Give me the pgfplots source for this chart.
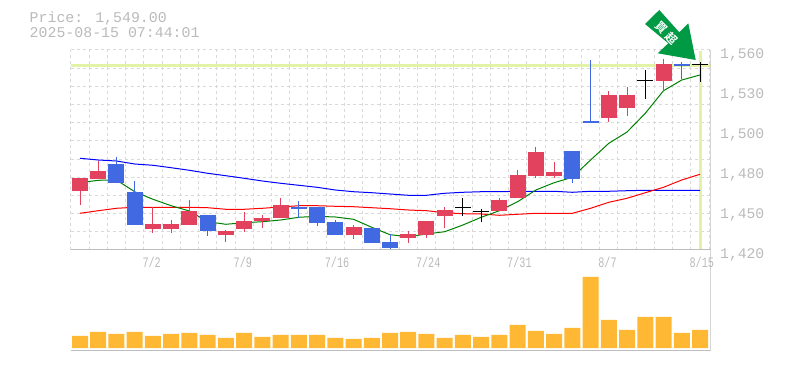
\documentclass[border=0pt]{standalone}
\usepackage{graphicx}
\usepackage{fontspec}
\setmainfont{Liberation Mono}
\newfontfamily\cjk{Noto Sans CJK JP}[BoldFont={* Bold}]
\usepackage{pgfplots}
\usepackage{pgfplotstable}
\pgfplotsset{compat=1.18}
\definecolor{cred}{HTML}{E3425F}
\definecolor{cblue}{HTML}{4169E1}
\definecolor{vol}{HTML}{FFB833}
\definecolor{hl}{HTML}{E2F2A6}
\definecolor{gr}{HTML}{D9D9D9}
\definecolor{ax}{HTML}{BEBEBE}
\definecolor{txt}{HTML}{BABABA}
\definecolor{arrowg}{HTML}{009A44}
\newcommand{\xl}[1]{\scalebox{0.7}[1]{\fontsize{14.5}{15}\selectfont #1}}

% candles: body top, body bottom, wick high, wick low
\pgfplotstableread{
i top bot hi lo
0 1470.4 1461.3 1470.4 1451.5
1 1475.3 1469.7 1482.5 1469.7
4 1438.2 1434.7 1449.9 1431.9
5 1438.2 1434.7 1441.0 1431.9
6 1447.3 1437.5 1455.0 1437.5
8 1433.3 1430.5 1434.0 1425.6
9 1440.3 1434.7 1446.6 1432.6
10 1442.4 1440.3 1444.5 1435.4
11 1451.5 1442.4 1456.4 1442.4
15 1436.1 1430.5 1437.5 1427.7
18 1431.2 1428.4 1433.3 1424.9
19 1440.3 1430.5 1440.3 1428.4
20 1448.0 1443.8 1450.1 1435.4
23 1455.0 1447.3 1456.4 1447.3
24 1472.5 1456.4 1476.0 1456.4
25 1488.6 1471.8 1492.1 1470.4
26 1474.6 1471.8 1481.6 1470.4
29 1528.5 1512.4 1531.3 1509.6
30 1528.5 1519.4 1534.1 1513.8
32 1550.2 1538.3 1553.7 1531.3
}\upcandles
\pgfplotstableread{
i top bot hi lo
2 1480.2 1466.9 1484.9 1466.9
3 1460.6 1437.5 1468.3 1437.5
7 1444.5 1433.3 1444.5 1429.8
12 1450.1 1448.7 1454.3 1442.4
13 1450.1 1438.9 1450.1 1436.8
14 1439.6 1430.5 1441.0 1430.5
16 1435.4 1424.9 1435.4 1424.9
17 1425.6 1421.4 1431.2 1419.3
27 1489.3 1469.7 1489.3 1466.9
28 1510.3 1508.9 1553.0 1508.9
33 1550.2 1548.8 1551.6 1539.7
}\downcandles
\pgfplotstableread{
i top bot hi lo
21 1450.25 1449.55 1456.4 1443.8
22 1447.45 1446.75 1448.7 1439.6
31 1539.15 1538.45 1546.0 1525.7
34 1549.85 1549.15 1551.6 1537.6
}\flatcandles
\pgfplotstableread{
i blue red green vol
0 1484.2 1445.7 1467.1 12
1 1483.0 1447.5 1468.8 16
2 1482.3 1449.2 1469.0 14
3 1480.2 1449.9 1460.8 16
4 1479.3 1449.9 1455.5 12
5 1477.6 1449.9 1451.0 14
6 1475.8 1449.9 1447.3 15
7 1473.7 1449.6 1439.8 13
8 1472.0 1448.5 1438.0 10
9 1470.2 1448.5 1439.1 15
10 1468.3 1449.2 1439.8 11
11 1466.7 1450.1 1441.0 13
12 1465.3 1451.0 1442.9 13
13 1463.9 1451.0 1443.6 13
14 1462.0 1450.6 1443.1 10
15 1460.8 1450.3 1441.5 9
16 1460.1 1449.6 1435.9 10
17 1459.2 1448.9 1430.7 15
18 1458.3 1448.0 1429.3 16
19 1458.3 1447.5 1431.2 14
20 1459.7 1446.1 1432.8 10
21 1460.4 1445.4 1437.5 13
22 1460.8 1445.2 1442.9 11
23 1460.8 1444.3 1447.5 13
24 1461.1 1445.0 1453.8 23
25 1461.1 1445.7 1462.0 17
26 1461.1 1445.7 1467.1 14
27 1460.4 1445.7 1470.9 20
28 1461.1 1449.2 1483.0 71
29 1461.1 1453.4 1494.7 28
30 1461.5 1456.2 1502.6 18
31 1461.8 1460.1 1515.7 31
32 1461.8 1463.9 1531.5 31
33 1461.8 1469.0 1539.0 15
34 1461.8 1473.0 1542.5 18
}\series

\pgfplotsset{
  chartbase/.style={
    scale only axis, width=640pt,
    xmin=-0.521, xmax=34.576,
    axis line style={draw=none},
    tick style={draw=none},
    major tick length=0pt, minor tick length=0pt,
    minor xtick={-0.5,0.5,1.5,2.5,3.5,4.5,5.5,6.5,7.5,8.5,9.5,10.5,11.5,12.5,13.5,14.5,15.5,16.5,17.5,18.5,19.5,20.5,21.5,22.5,23.5,24.5,25.5,26.5,27.5,28.5,29.5,30.5,31.5,32.5,33.5,34.5},
    xminorgrids=true,
    minor grid style={draw=gr, line width=1pt, dash pattern=on 3pt off 3pt},
  },
  wick/.style={draw=none, mark=none, forget plot,
    error bars/.cd, y dir=both, y explicit, error mark=none,
    error bar style={line width=1pt, draw=#1, solid}},
  body/.style={draw=none, mark=none, forget plot,
    error bars/.cd, y dir=minus, y explicit, error mark=none,
    error bar style={line width=16pt, draw=#1, solid}},
}

\begin{document}
\begin{tikzpicture}[x=1pt,y=1pt]
\path[use as bounding box] (0pt,0pt) rectangle (785pt,370pt);

% volume panel
\begin{axis}[chartbase, name=v, at={(70.5pt,20pt)}, anchor=south west,
    height=100pt, ymin=-2, ymax=98, ytick=\empty, xtick=\empty]
  \addplot[ybar, bar width=16pt, fill=vol, draw=none, forget plot] table[x=i,y=vol] {\series};
  \draw[ax, line width=1pt] (rel axis cs:0,1)--(rel axis cs:1,1)--(rel axis cs:1,0)--(rel axis cs:0,0);
\end{axis}

% price panel
\begin{axis}[chartbase, at={(70.5pt,120pt)}, anchor=south west,
    height=200pt, ymin=1420, ymax=1560,
    ytick={1420,1448,1476,1504,1532,1560},
    yticklabels={{1,420},{1,450},{1,480},{1,500},{1,530},{1,560}},
    yticklabel pos=right,
    yticklabel style={anchor=west, inner sep=0pt, xshift=9.5pt, yshift=-5pt, text=txt,
        font=\fontsize{14.7}{15}\selectfont},
    minor ytick={1432.73,1445.45,1458.18,1470.91,1483.64,1496.36,1509.09,1521.82,1534.55,1547.27,1560},
    yminorgrids=true,
    xtick={3.5,8.5,13.5,18.5,23.5,28.5,33.5},
    xticklabels={\xl{7/2},\xl{7/9},\xl{7/16},\xl{7/24},\xl{7/31},\xl{8/7},\xl{8/15}},
    xticklabel style={anchor=west, inner sep=0pt, xshift=-1.5pt, yshift=-12pt, text=txt},
  ]
  \addplot[hl, line width=3pt, forget plot] coordinates {(-0.521,1549.3) (34.576,1549.3)};
  \addplot[hl, line width=3pt, forget plot] coordinates {(34,1420.7) (34,1559.5)};
  \addplot[blue, line width=1pt, forget plot] table[x=i,y=blue] {\series};
  \addplot[red, line width=1pt, forget plot] table[x=i,y=red] {\series};
  \addplot[green!50!black, line width=1pt, forget plot] table[x=i,y=green] {\series};

  \addplot[wick=cred] table[x=i,y=top,y error plus expr=\thisrow{hi}-\thisrow{top},y error minus expr=\thisrow{top}-\thisrow{lo}] {\upcandles};
  \addplot[body=cred] table[x=i,y=top,y error minus expr=\thisrow{top}-\thisrow{bot}] {\upcandles};
  \addplot[wick=cblue] table[x=i,y=top,y error plus expr=\thisrow{hi}-\thisrow{top},y error minus expr=\thisrow{top}-\thisrow{lo}] {\downcandles};
  \addplot[body=cblue] table[x=i,y=top,y error minus expr=\thisrow{top}-\thisrow{bot}] {\downcandles};
  \addplot[wick=black] table[x=i,y=top,y error plus expr=\thisrow{hi}-\thisrow{top},y error minus expr=\thisrow{top}-\thisrow{lo}] {\flatcandles};
  \addplot[body=black] table[x=i,y=top,y error minus expr=\thisrow{top}-\thisrow{bot}] {\flatcandles};

  \draw[ax, line width=1pt] (rel axis cs:0,0)--(rel axis cs:1,0)--(rel axis cs:1,1);
\end{axis}

% header
\node[anchor=west, inner sep=0pt, text=txt, font=\fontsize{14.9}{15}\selectfont] at (29.5pt,352pt) {Price: 1,549.00};
\node[anchor=west, inner sep=0pt, text=txt, font=\fontsize{14.9}{15}\selectfont] at (29.5pt,337pt) {2025-08-15 07:44:01};

% badge arrow
\fill[arrowg] (659.3pt,360pt)--(645pt,346pt)--(668.3pt,326.7pt)--(657.7pt,316.7pt)--(695.7pt,310pt)--(688.3pt,346.7pt)--(679.3pt,337.7pt)--cycle;
\node[rotate=-45, inner sep=0pt, text=white, font=\cjk\bfseries\fontsize{11.5}{12}\selectfont] at (661pt,342.7pt) {買};
\node[rotate=-45, inner sep=0pt, text=white, font=\cjk\bfseries\fontsize{11.5}{12}\selectfont] at (671.7pt,331.7pt) {超};
\end{tikzpicture}
\end{document}
